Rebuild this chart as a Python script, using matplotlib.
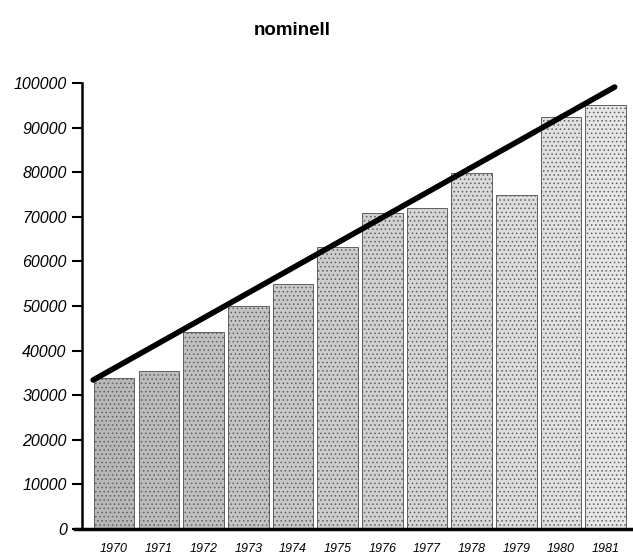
import numpy as np
import matplotlib
matplotlib.use("Agg")
import matplotlib.pyplot as plt

plt.rcParams['font.family'] = ['Liberation Sans', 'DejaVu Sans']
plt.rcParams['hatch.color'] = '#808080'
plt.rcParams['hatch.linewidth'] = 0.6

years = ['1970', '1971', '1972', '1973', '1974', '1975',
         '1976', '1977', '1978', '1979', '1980', '1981']
values = [33800, 35500, 44200, 50000, 55000, 63200,
          70900, 72000, 79800, 74900, 92400, 95100]

# trend line: position (in bar index units) and value at its two ends
trend_x = [-0.47, 11.2]
trend_y = [33400, 99100]

yticks = [0, 10000, 20000, 30000, 40000, 50000,
          60000, 70000, 80000, 90000, 100000]

fig = plt.figure(figsize=(6.33, 5.57), dpi=100)
ax = fig.add_axes([0.1295, 0.0503, 0.8705, 0.8007])

x = np.arange(len(years))
# scanned stipple: darker on the left, lighter on the right
shades = np.linspace(0.72, 0.90, len(years))
for i in range(len(years)):
    ax.bar(x[i], values[i], width=0.91, color=str(shades[i]),
           edgecolor='#606060', linewidth=0.7, hatch='....')

ax.plot(trend_x, trend_y, color='black', linewidth=4, solid_capstyle='round')

ax.set_xlim(-0.72, 11.61)
ax.set_ylim(0, 100000)

ax.set_yticks(yticks)
ax.set_yticklabels([str(v) for v in yticks], fontstyle='italic',
                   fontsize=11.5)
ax.set_xticks(x)
ax.set_xticklabels(years, fontstyle='italic', fontsize=9)
ax.tick_params(axis='y', length=7, width=1.5, pad=4)
ax.tick_params(axis='x', length=0, pad=10)

ax.spines['top'].set_visible(False)
ax.spines['right'].set_visible(False)
ax.spines['left'].set_linewidth(1.8)
ax.spines['bottom'].set_linewidth(2.5)
ax.spines['bottom'].set_bounds(-0.87, 11.61)

fig.text(0.462, 0.945, 'nominell', ha='center', va='center',
         fontsize=13.5, fontweight='bold')

fig.savefig('out.png', dpi=100)
